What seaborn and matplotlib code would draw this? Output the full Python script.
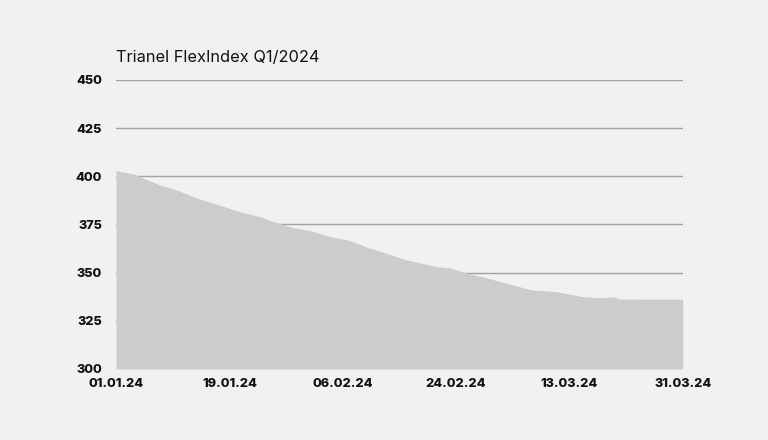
import matplotlib
matplotlib.use("Agg")
import matplotlib.pyplot as plt
import matplotlib.dates as mdates
import seaborn as sns
import pandas as pd

title = "Trianel FlexIndex Q1/2024"
dates = ["2024-01-01", "2024-01-04", "2024-01-05", "2024-01-08", "2024-01-11",
         "2024-01-14", "2024-01-17", "2024-01-21", "2024-01-24", "2024-01-26",
         "2024-01-29", "2024-02-01", "2024-02-04", "2024-02-07", "2024-02-10",
         "2024-02-12", "2024-02-16", "2024-02-18", "2024-02-21", "2024-02-23",
         "2024-02-26", "2024-02-29", "2024-03-03", "2024-03-07", "2024-03-11",
         "2024-03-15", "2024-03-18", "2024-03-20", "2024-03-21", "2024-03-31"]
values = [403.0, 401.0, 399.5, 395.5, 392.5,
          388.5, 385.5, 381.3, 379.0, 376.5,
          373.5, 371.7, 368.7, 366.8, 363.0,
          361.0, 356.7, 355.3, 353.1, 352.5,
          349.5, 347.2, 344.5, 341.0, 340.1,
          337.6, 337.0, 337.5, 336.3, 336.2]
y_ticks = [300, 325, 350, 375, 400, 425, 450]
x_ticks = ["2024-01-01", "2024-01-19", "2024-02-06", "2024-02-24", "2024-03-13", "2024-03-31"]

df = pd.DataFrame({"date": pd.to_datetime(dates), "value": values})

BG = "#f2f1ef"
sns.set_theme(style="white")
plt.rcParams["font.family"] = ["Inter", "DejaVu Sans"]

fig = plt.figure(figsize=(7.68, 4.40), dpi=100, facecolor=BG)
ax = fig.add_axes([0.151, 0.1614, 0.738, 0.6568])
ax.set_facecolor(BG)

for t in y_ticks[1:]:
    ax.axhline(t, color="#a3a3a3", lw=1.0, zorder=1)

sns.lineplot(data=df, x="date", y="value", ax=ax, color="#cccccc", lw=0, zorder=2)
ax.fill_between(df["date"], 300, df["value"], color="#cccccc", lw=0, zorder=2)

ax.set_xlim(pd.Timestamp("2024-01-01"), pd.Timestamp("2024-03-31"))
ax.set_ylim(300, 450)
ax.set_yticks(y_ticks)
ax.set_xticks(pd.to_datetime(x_ticks))
ax.xaxis.set_major_formatter(mdates.DateFormatter("%d.%m.%y"))
for lab in ax.get_xticklabels() + ax.get_yticklabels():
    lab.set_fontweight("heavy")
    lab.set_fontsize(9.2)
    lab.set_color("#111111")
ax.tick_params(axis="y", length=0, pad=10)
ax.tick_params(axis="x", length=0, pad=6.5)
ax.set_xlabel("")
ax.set_ylabel("")
for s in ax.spines.values():
    s.set_visible(False)

fig.text(0.151, 0.870, title, fontsize=11.8, color="#111111", ha="left", va="center")

fig.savefig("out.png", dpi=100, facecolor=BG)
